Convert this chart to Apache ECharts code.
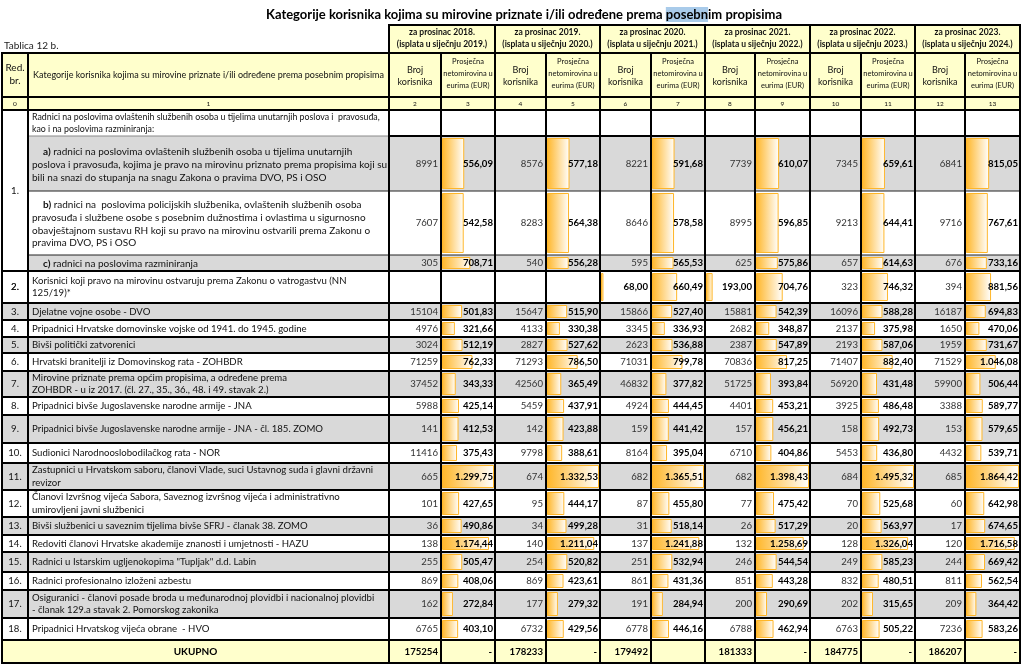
<!DOCTYPE html>
<html>
<head>
<meta charset="utf-8">
<title>Tablica 12 b.</title>
<script src="https://cdn.jsdelivr.net/npm/echarts@6/dist/echarts.min.js"></script>
<style>
  html, body { margin: 0; padding: 0; background: #fff; }
  #main { width: 1025px; height: 670px; }
</style>
</head>
<body>
<div id="main"></div>
<script>
const years = [2018, 2019, 2020, 2021, 2022, 2023];
const rowNumbers = ['1.', '2.', '3.', '4.', '5.', '6.', '7.', '8.', '9.', '10.', '11.', '12.', '13.', '14.', '15.', '16.', '17.', '18.'];
// index 0 = heading of group 1, then 1a, 1b, 1c, 2 ... 18
const categories = [
  'Radnici na poslovima ovlaštenih službenih osoba u tijelima unutarnjih poslova i  pravosuđa,\nkao i na poslovima razminiranja:',
  'a) radnici na poslovima ovlaštenih službenih osoba u tijelima unutarnjih\nposlova i pravosuđa, kojima je pravo na mirovinu priznato prema propisima koji su\nbili na snazi do stupanja na snagu Zakona o pravima DVO, PS i OSO',
  'b) radnici na  poslovima policijskih službenika, ovlaštenih službenih osoba\npravosuđa i službene osobe s posebnim dužnostima i ovlastima u sigurnosno\nobavještajnom sustavu RH koji su pravo na mirovinu ostvarili prema Zakonu o\npravima DVO, PS i OSO',
  'c) radnici na poslovima razminiranja',
  'Korisnici koji pravo na mirovinu ostvaruju prema Zakonu o vatrogastvu (NN\n125/19)*',
  'Djelatne vojne osobe - DVO',
  'Pripadnici Hrvatske domovinske vojske od 1941. do 1945. godine',
  'Bivši politički zatvorenici',
  'Hrvatski branitelji iz Domovinskog rata - ZOHBDR',
  'Mirovine priznate prema općim propisima, a određene prema\nZOHBDR - u iz 2017. (čl. 27., 35., 36., 48. i 49. stavak 2.)',
  'Pripadnici bivše Jugoslavenske narodne armije - JNA',
  'Pripadnici bivše Jugoslavenske narodne armije - JNA - čl. 185. ZOMO',
  'Sudionici Narodnooslobodilačkog rata - NOR',
  'Zastupnici u Hrvatskom saboru, članovi Vlade, suci Ustavnog suda i glavni državni\nrevizor',
  'Članovi Izvršnog vijeća Sabora, Saveznog izvršnog vijeća i administrativno\numirovljeni javni službenici',
  'Bivši službenici u saveznim tijelima bivše SFRJ - članak 38. ZOMO',
  'Redoviti članovi Hrvatske akademije znanosti i umjetnosti - HAZU',
  'Radnici u Istarskim ugljenokopima "Tupljak" d.d. Labin',
  'Radnici profesionalno izloženi azbestu',
  'Osiguranici - članovi posade broda u međunarodnoj plovidbi i nacionalnoj plovidbi\n- članak 129.a stavak 2. Pomorskog zakonika',
  'Pripadnici Hrvatskog vijeća obrane  - HVO'
];

// Broj korisnika (same row order as categories)
const broj2018 = [null, 8991, 7607, 305, null, 15104, 4976, 3024, 71259, 37452, 5988, 141, 11416, 665, 101, 36, 138, 255, 869, 162, 6765];
const broj2019 = [null, 8576, 8283, 540, null, 15647, 4133, 2827, 71293, 42560, 5459, 142, 9798, 674, 95, 34, 140, 254, 869, 177, 6732];
const broj2020 = [null, 8221, 8646, 595, 68, 15866, 3345, 2623, 71031, 46832, 4924, 159, 8164, 682, 87, 31, 137, 251, 861, 191, 6778];
const broj2021 = [null, 7739, 8995, 625, 193, 15881, 2682, 2387, 70836, 51725, 4401, 157, 6710, 682, 77, 26, 132, 246, 851, 200, 6788];
const broj2022 = [null, 7345, 9213, 657, 323, 16096, 2137, 2193, 71407, 56920, 3925, 158, 5453, 684, 70, 20, 128, 249, 832, 202, 6763];
const broj2023 = [null, 6841, 9716, 676, 394, 16187, 1650, 1959, 71529, 59900, 3388, 153, 4432, 685, 60, 17, 120, 244, 811, 209, 7236];

// Prosječna netomirovina u eurima (EUR)
const eur2018 = [null, 556.09, 542.58, 708.71, null, 501.83, 321.66, 512.19, 762.33, 343.33, 425.14, 412.53, 375.43, 1299.75, 427.65, 490.86, 1174.44, 505.47, 408.06, 272.84, 403.10];
const eur2019 = [null, 577.18, 564.38, 556.28, null, 515.90, 330.38, 527.62, 786.50, 365.49, 437.91, 423.88, 388.61, 1332.53, 444.17, 499.28, 1211.04, 520.82, 423.61, 279.32, 429.56];
const eur2020 = [null, 591.68, 578.58, 565.53, 660.49, 527.40, 336.93, 536.88, 799.78, 377.82, 444.45, 441.42, 395.04, 1365.51, 455.80, 518.14, 1241.88, 532.94, 431.36, 284.94, 446.16];
const eur2021 = [null, 610.07, 596.85, 575.86, 704.76, 542.39, 348.87, 547.89, 817.25, 393.84, 453.21, 456.21, 404.86, 1398.43, 475.42, 517.29, 1258.69, 544.54, 443.28, 290.69, 462.94];
const eur2022 = [null, 659.61, 644.41, 614.63, 746.32, 588.28, 375.98, 587.06, 882.40, 431.48, 486.48, 492.73, 436.80, 1495.32, 525.68, 563.97, 1326.04, 585.23, 480.51, 315.65, 505.22];
const eur2023 = [null, 815.05, 767.61, 733.16, 881.56, 694.83, 470.06, 731.67, 1046.08, 506.44, 589.77, 579.65, 539.71, 1864.42, 642.98, 674.65, 1716.58, 669.42, 562.54, 364.42, 583.26];

const totals = [175254, 178233, 179492, 181333, 184775, 186207];
const totalEur = ['-', '-', '', '-', '-', '-'];

const brojByYear = [broj2018, broj2019, broj2020, broj2021, broj2022, broj2023];
const eurByYear = [eur2018, eur2019, eur2020, eur2021, eur2022, eur2023];

// ---------- layout ----------
const X = [2, 28, 389, 441, 495, 546, 600, 651, 705, 755, 810, 861, 915, 965, 1020];
const Y_YEAR = 25, Y_HEAD = 53, Y_NUM = 97;
const ROW_Y = [110, 136, 191, 255, 271, 303, 320, 337, 353, 371, 397, 415, 443, 463, 490, 517, 535, 552, 572, 590, 618, 640, 663];
const GREY = '#D9D9D9', CREAM = '#FFFFCC', BAR = '#FFB628';
const FONT = 'Lato, "Liberation Sans", sans-serif';

function fmtEur(v) {
  const p = v.toFixed(2).split('.');
  return p[0].replace(/\B(?=(\d{3})+(?!\d))/g, '.') + ',' + p[1];
}
// firefighters row: 2020 and 2021 counts are shown as amounts, with data bars
const FIRE_ROW = 4;
const brojAsAmount = { 2: true, 3: true };

const fills = [];
const lines = [];
const texts = [];

function txt(x, y, text, o) {
  texts.push(Object.assign({ x, y, text, align: 'center', size: 9.5, weight: 'normal', color: '#111' }, o || {}));
}

// header
for (let k = 0; k < 6; k++) {
  const x0 = X[2 + 2 * k], x1 = X[4 + 2 * k], xm = X[3 + 2 * k];
  fills.push({ x0, x1, y0: Y_YEAR, y1: Y_HEAD, fill: CREAM });
  txt((x0 + x1) / 2, 32, 'za prosinac ' + years[k] + '.', { size: 8.5, weight: 'bold' });
  txt((x0 + x1) / 2, 44, '(isplata u siječnju ' + (years[k] + 1) + '.)', { size: 8.5, weight: 'bold' });
  txt((x0 + xm) / 2, 76, 'Broj\nkorisnika', { size: 9, lh: 12 });
  txt((xm + x1) / 2, 74, 'Prosječna\nnetomirovina u\neurima (EUR)', { size: 7.5, lh: 12 });
}
fills.push({ x0: X[0], x1: X[14], y0: Y_HEAD, y1: Y_NUM, fill: CREAM });
fills.push({ x0: X[0], x1: X[14], y0: Y_NUM, y1: ROW_Y[0], fill: CREAM });
fills.push({ x0: X[2], x1: X[14], y0: Y_HEAD, y1: Y_NUM, fill: CREAM });
txt(15, 74, 'Red.\nbr.', { size: 10, lh: 13 });
txt((X[1] + X[2]) / 2, 75, 'Kategorije korisnika kojima su mirovine priznate i/ili određene prema posebnim propisima', { size: 9 });
for (let c = 0; c < 14; c++) {
  txt((X[c] + X[c + 1]) / 2, 104, String(c), { size: 6.5 });
}

// body
const TOTAL_ROW = categories.length;
for (let r = 0; r < categories.length; r++) {
  const y0 = ROW_Y[r], y1 = ROW_Y[r + 1], ym = (y0 + y1) / 2;
  const fill = r % 2 === 1 ? GREY : '#FFFFFF';
  fills.push({ x0: X[1], x1: X[14], y0, y1, fill });
  if (r > 3) fills.push({ x0: X[0], x1: X[1], y0, y1, fill });
  // category text
  const sub = /^([abc]\))(.*)$/s.exec(categories[r]);
  if (sub) {
    txt(X[1] + 4, ym + 1, '{b|' + sub[1] + '}' + sub[2], { align: 'left', size: 10, lh: 12.8, sub: true });
  } else {
    txt(X[1] + 4, ym, categories[r], { align: 'left', size: r === 0 ? 8.8 : 9.6, lh: r === 0 ? 12 : 12.8 });
  }
  // red. br.
  if (r >= 4) txt(15, ym, rowNumbers[r - 3], { size: 9.6 });
  // numbers
  for (let k = 0; k < 6; k++) {
    const b = brojByYear[k][r], e = eurByYear[k][r];
    if (b != null) {
      if (r === FIRE_ROW && brojAsAmount[k]) {
        txt(X[3 + 2 * k] - 3, ym, fmtEur(b), { align: 'right', size: 9.6, weight: 'bold', color: '#000' });
      } else {
        txt(X[3 + 2 * k] - 3, ym, String(b), { align: 'right', size: 9.6, color: '#333' });
      }
    }
    if (e != null) txt(X[4 + 2 * k] - 2, ym, fmtEur(e), { align: 'right', size: 9.6, weight: 'bold', color: '#000' });
  }
}
fills.push({ x0: X[0], x1: X[1], y0: ROW_Y[0], y1: ROW_Y[4], fill: '#FFFFFF' });
txt(15, (ROW_Y[0] + ROW_Y[4]) / 2, rowNumbers[0], { size: 9.6 });
txt(15, (ROW_Y[4] + ROW_Y[5]) / 2, rowNumbers[1], { size: 9.6 });

// total row
{
  const y0 = ROW_Y[TOTAL_ROW], y1 = ROW_Y[TOTAL_ROW + 1], ym = (y0 + y1) / 2;
  fills.push({ x0: X[0], x1: X[14], y0, y1, fill: CREAM });
  txt((X[0] + X[2]) / 2, ym, 'UKUPNO', { size: 10, weight: 'bold', color: '#000' });
  for (let k = 0; k < 6; k++) {
    txt(X[3 + 2 * k] - 3, ym, String(totals[k]), { align: 'right', size: 9.6, weight: 'bold', color: '#000' });
    if (totalEur[k]) txt(X[4 + 2 * k] - 3, ym, totalEur[k], { align: 'right', size: 9.6, weight: 'bold', color: '#000' });
  }
}
txt(4, 46, 'Tablica 12 b.', { align: 'left', size: 10, color: '#222' });

// grid lines
function hl(y, x0, x1, w, color) { lines.push({ x0, y0: y, x1, y1: y, w: w || 2, color: color || '#000' }); }
function vl(x, y0, y1, w) { lines.push({ x0: x, y0, x1: x, y1, w: w || 2, color: '#000' }); }
hl(Y_YEAR, X[2], X[14]);
hl(Y_HEAD, X[0], X[14]);
hl(Y_NUM, X[0], X[14]);
hl(ROW_Y[0], X[0], X[14]);
hl(ROW_Y[1], X[1], X[2], 1, '#8a8a8a'); hl(ROW_Y[1], X[2], X[14]);
hl(ROW_Y[2], X[1], X[14], 1, '#222');
hl(ROW_Y[3], X[1], X[14], 1, '#222');
for (let r = 4; r < ROW_Y.length; r++) hl(ROW_Y[r], X[0], X[14]);
for (let k = 0; k <= 6; k++) vl(X[2 + 2 * k], Y_YEAR, ROW_Y[ROW_Y.length - 1]);
for (let k = 0; k < 6; k++) vl(X[3 + 2 * k], Y_HEAD, ROW_Y[ROW_Y.length - 1]);
vl(X[0], Y_HEAD, ROW_Y[ROW_Y.length - 1]);
vl(X[1], Y_HEAD, ROW_Y[TOTAL_ROW]);

// ---------- chart ----------
const chart = echarts.init(document.getElementById('main'), null, { renderer: 'canvas' });

const hidden = { show: false, splitLine: { show: false } };
const grids = [{ left: 0, top: 0, width: 1025, height: 670 }];
const xAxes = [Object.assign({ type: 'value', min: 0, max: 1025, gridIndex: 0 }, hidden)];
const yAxes = [Object.assign({ type: 'value', min: 0, max: 670, inverse: true, gridIndex: 0 }, hidden)];

function addBarGrid(x0, x1, max) {
  const i = grids.length;
  grids.push({ left: x0 + 1, top: 0, width: x1 - x0 - 2, height: 670 });
  xAxes.push(Object.assign({ type: 'value', min: 0, max, gridIndex: i }, hidden));
  yAxes.push(Object.assign({ type: 'value', min: 0, max: 670, inverse: true, gridIndex: i }, hidden));
  return i;
}

const barFill = new echarts.graphic.LinearGradient(0, 0, 1, 0, [
  { offset: 0, color: BAR },
  { offset: 1, color: '#FFFFFF' }
]);

function barSeries(gi, values, rows) {
  return {
    type: 'custom', xAxisIndex: gi, yAxisIndex: gi, z: 2, silent: true,
    data: values.map((v, r) => [v, r]).filter(d => d[0] != null && (!rows || rows.indexOf(d[1]) >= 0)),
    renderItem(params, api) {
      const v = api.value(0), r = api.value(1);
      const p0 = api.coord([0, ROW_Y[r] + 2]);
      const p1 = api.coord([v, ROW_Y[r + 1] - 2]);
      return {
        type: 'rect',
        shape: { x: Math.round(p0[0]) + 0.5, y: p0[1] + 0.5, width: Math.max(p1[0] - p0[0] - 1, 1), height: p1[1] - p0[1] - 1 },
        style: { fill: barFill, stroke: BAR, lineWidth: 1 }
      };
    }
  };
}

const series = [];
series.push({
  type: 'custom', z: 1, silent: true,
  data: fills.map(f => [f.x0, f.y0]),
  renderItem(params, api) {
    const f = fills[params.dataIndex];
    const a = api.coord([f.x0, f.y0]), b = api.coord([f.x1, f.y1]);
    return { type: 'rect', shape: { x: a[0], y: a[1], width: b[0] - a[0], height: b[1] - a[1] }, style: { fill: f.fill } };
  }
});
for (let k = 0; k < 6; k++) {
  const vals = eurByYear[k].filter(v => v != null);
  const max = Math.max.apply(null, vals);
  const gi = addBarGrid(X[3 + 2 * k], X[4 + 2 * k], max);
  series.push(barSeries(gi, eurByYear[k]));
  if (brojAsAmount[k]) {
    const gb = addBarGrid(X[2 + 2 * k], X[3 + 2 * k], max);
    series.push(barSeries(gb, brojByYear[k], [FIRE_ROW]));
  }
}
series.push({
  type: 'custom', z: 3, silent: true,
  data: lines.map(l => [l.x0, l.y0]),
  renderItem(params, api) {
    const l = lines[params.dataIndex];
    const a = api.coord([l.x0, l.y0]), b = api.coord([l.x1, l.y1]);
    const ext = l.w / 2;
    const horiz = l.y0 === l.y1;
    return {
      type: 'line',
      shape: horiz ? { x1: a[0] - ext, y1: a[1], x2: b[0] + ext, y2: b[1] } : { x1: a[0], y1: a[1] - ext, x2: b[0], y2: b[1] + ext },
      style: { stroke: l.color, lineWidth: l.w }
    };
  }
});
series.push({
  type: 'custom', z: 4, silent: true,
  data: texts.map(t => [t.x, t.y]),
  renderItem(params, api) {
    const t = texts[params.dataIndex];
    const p = api.coord([t.x, t.y]);
    const style = {
      text: t.text, x: p[0], y: p[1], fill: t.color,
      fontFamily: FONT, fontSize: t.size, fontWeight: t.weight,
      align: t.align, verticalAlign: 'middle', lineHeight: t.lh || Math.round(t.size * 1.3)
    };
    if (t.sub) {
      style.rich = { b: { fontFamily: FONT, fontSize: t.size, fontWeight: 'bold', fill: t.color, lineHeight: t.lh, padding: [0, 0, 0, 11] } };
    }
    return { type: 'text', style };
  }
});

chart.setOption({
  animation: false,
  backgroundColor: '#FFFFFF',
  title: {
    text: 'Kategorije korisnika kojima su mirovine priznate i/ili određene prema {h|posebn}im propisima',
    left: 261, top: 2,
    textStyle: {
      fontFamily: FONT, fontWeight: 'bold', fontSize: 13, color: '#000',
      rich: { h: { fontFamily: FONT, fontWeight: 'bold', fontSize: 13, color: '#000', backgroundColor: '#A9CBEA', padding: [1, 0, 1, 0] } }
    }
  },
  grid: grids,
  xAxis: xAxes,
  yAxis: yAxes,
  series
});
</script>
</body>
</html>
